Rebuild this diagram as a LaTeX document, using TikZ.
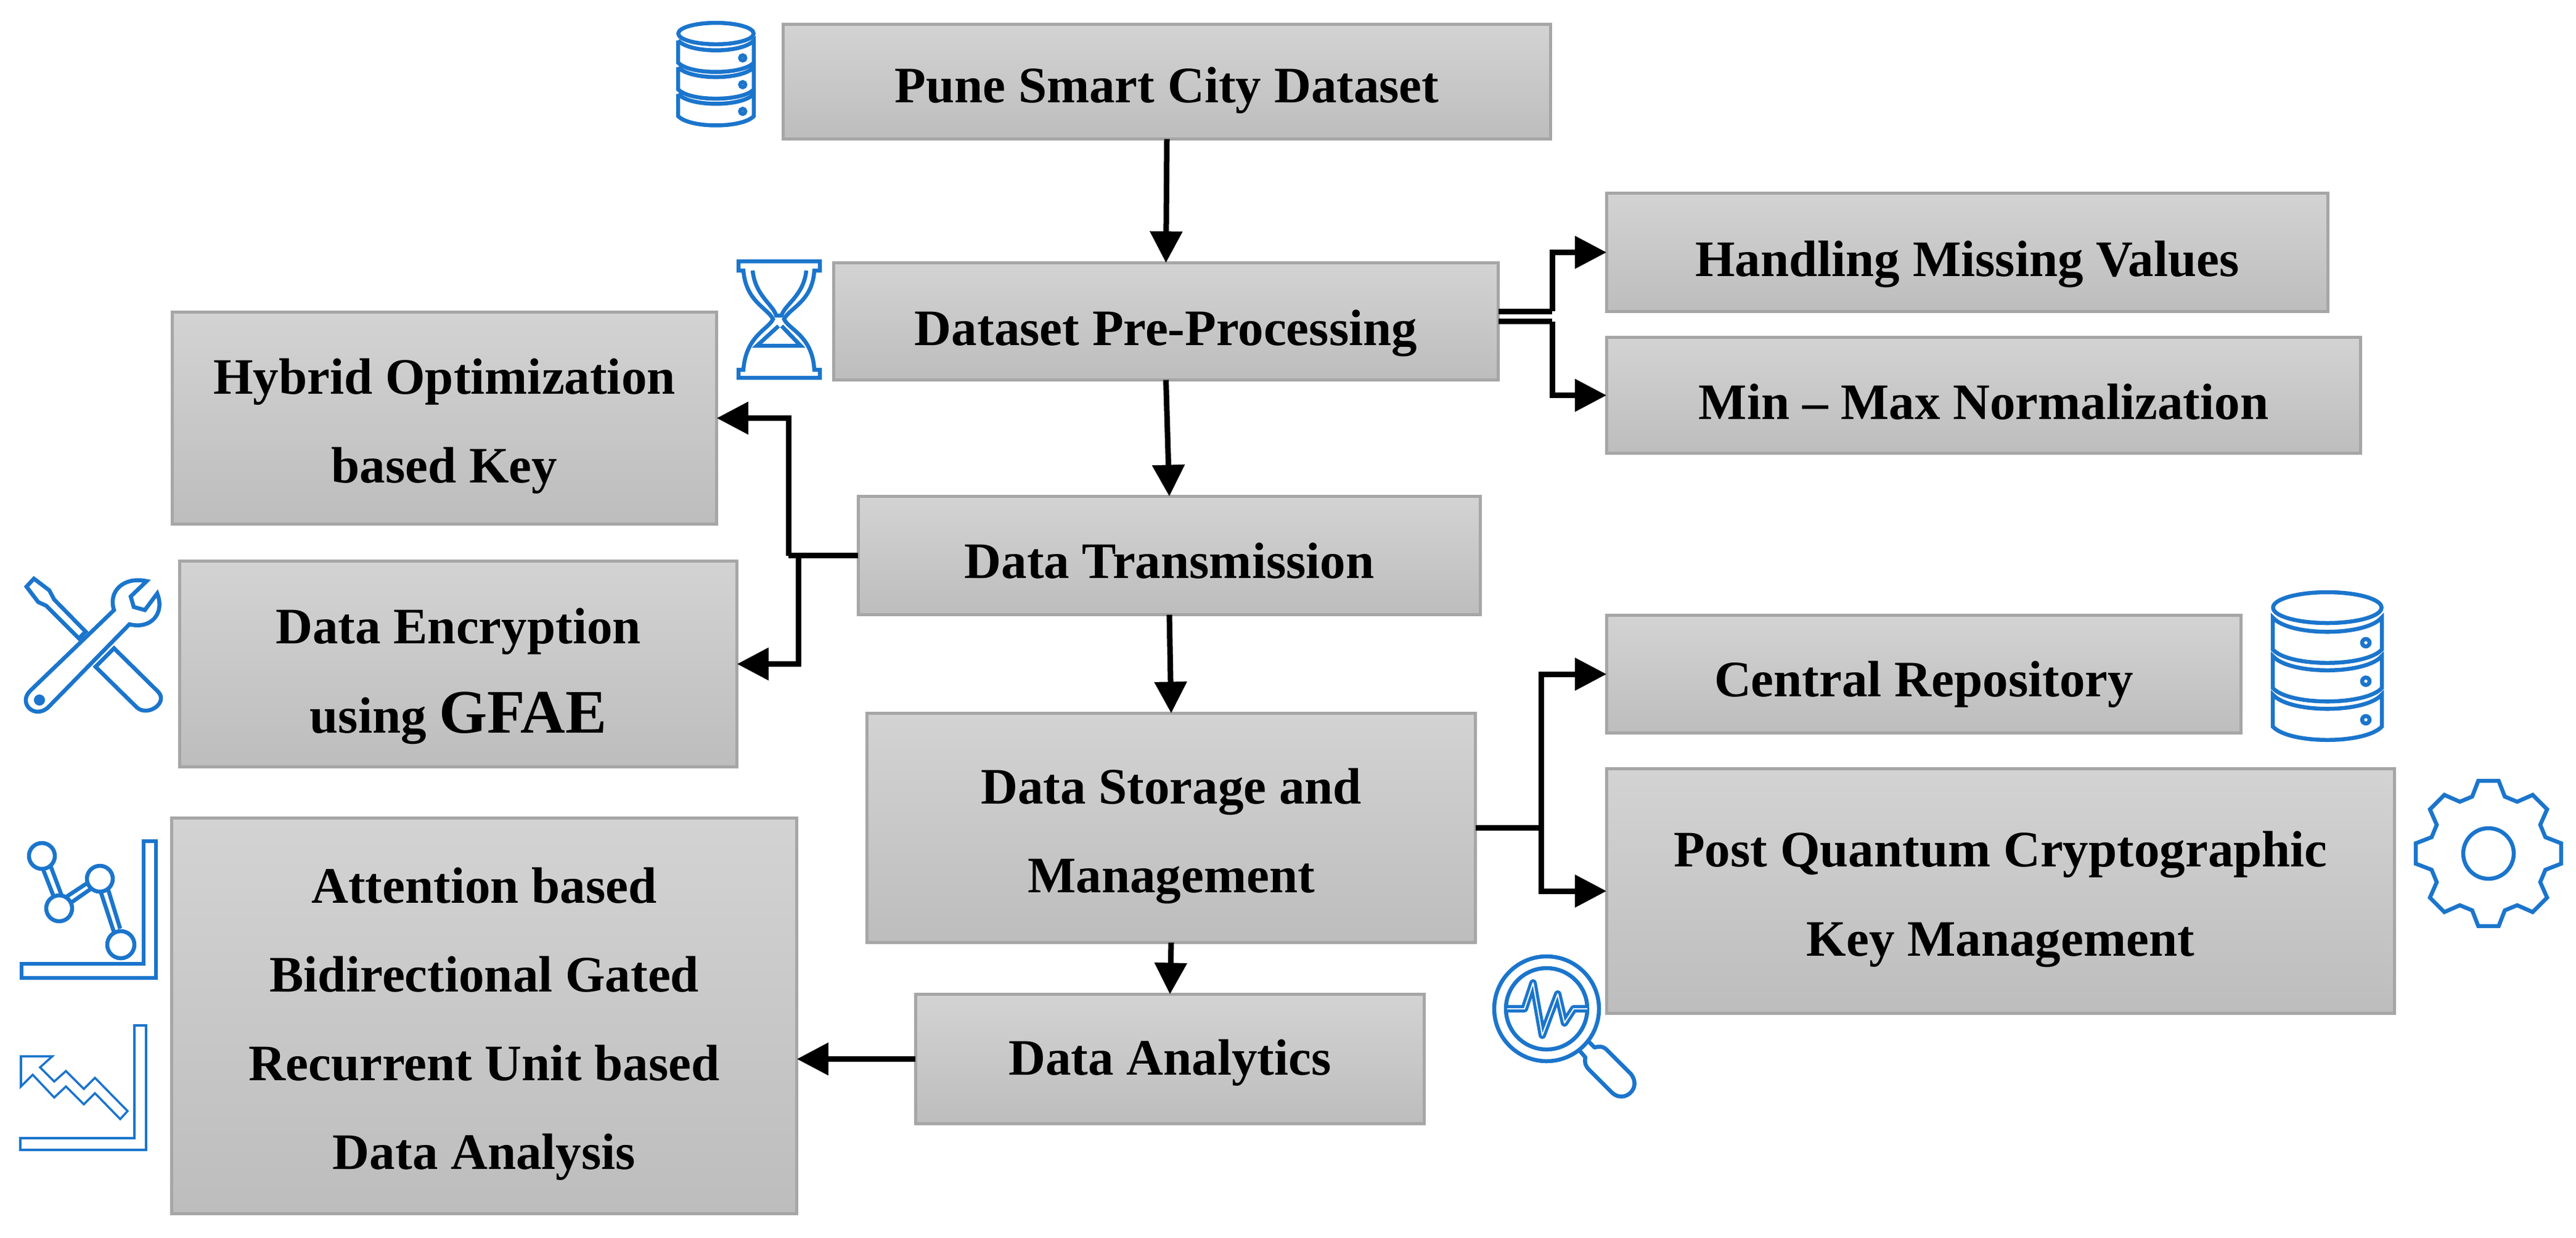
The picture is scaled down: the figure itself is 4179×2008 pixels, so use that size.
\documentclass[tikz,border=0pt]{standalone}
\usepackage{fontspec}
\setmainfont{Liberation Serif}
\usetikzlibrary{arrows.meta}

\definecolor{boxtop}{HTML}{D3D3D3}
\definecolor{boxbottom}{HTML}{BDBDBD}
\definecolor{boxline}{HTML}{A6A6A6}
\definecolor{iconblue}{HTML}{1B75CC}

\newcommand{\lifted}{\rule{0pt}{24pt}}

\tikzset{
	stage/.style = {draw = boxline, line width = .05cm, top color = boxtop, bottom color = boxbottom, outer sep = 0, inner sep = 0, align = center, text = black, font = \fontsize{23.6}{41}\selectfont\bfseries, execute at begin node = {\rule[-5.2pt]{0pt}{#1}}},
	stage/.default = 31.2pt,
	link/.style = {draw = black, line width = .09cm, -{Triangle[length = .51cm, width = .51cm]}},
	plainlink/.style = {draw = black, line width = .09cm},
	icon/.style = {draw = iconblue, line width = .065cm, line join = miter},
	database/.pic = {
		\draw [icon] (91.5,28) circle [x radius = 88, y radius = 25];
		\foreach \y in {0,62.5,125} {
			\draw [icon] (3,44+\y) -- (3,96+\y) .. controls (30,125+\y) and (153,125+\y) .. (180,96+\y) -- (180,44+\y) .. controls (153,75+\y) and (30,75+\y) .. cycle;
			\draw [icon] (154,85+\y) circle [radius = 6];
		}
	}
}

\begin{document}
\begin{tikzpicture}[x = .01cm, y = -.01cm]
	\useasboundingbox (0,0) rectangle (4179,2008);

	%stages
	\node [stage = 29.7pt, minimum width = 12.45cm, minimum height = 1.86cm] (pune dataset) at (1893,132.5) {Pune Smart City Dataset};
	\node [stage = 32.8pt, minimum width = 10.78cm, minimum height = 1.90cm] (dataset preprocessing) at (1891.5,521.5) {Dataset Pre-Processing};
	\node [stage, minimum width = 10.09cm, minimum height = 1.92cm] (data transmission) at (1897,901.5) {Data Transmission};
	\node [stage, minimum width = 9.87cm, minimum height = 3.72cm] (data storage) at (1900,1343.5) {\lifted Data Storage and\\Management};
	\node [stage = 25.2pt, minimum width = 8.25cm, minimum height = 2.10cm] (data analytics) at (1898,1718.5) {Data Analytics};

	%left side
	\node [stage, minimum width = 8.83cm, minimum height = 3.44cm] (hybrid key) at (721,678.5) {\lifted Hybrid Optimization\\based Key};
	\node [stage, minimum width = 9.04cm, minimum height = 3.34cm] (data encryption) at (743.5,1077.5) {\rule{0pt}{27.7pt}Data Encryption\\using {\fontsize{28.6}{41}\selectfont GFAE}};
	\node [stage, minimum width = 10.14cm, minimum height = 6.42cm] (data analysis) at (785.5,1648.5) {\lifted Attention based\\Bidirectional Gated\\Recurrent Unit based\\Data Analysis};

	%right side
	\node [stage = 32.8pt, minimum width = 11.70cm, minimum height = 1.92cm] (missing values) at (3191.5,409.5) {Handling Missing Values};
	\node [stage = 32.8pt, minimum width = 12.23cm, minimum height = 1.88cm] (minmax normalization) at (3218,641.5) {Min -- Max Normalization};
	\node [stage, minimum width = 10.29cm, minimum height = 1.91cm] (central repository) at (3121,1094) {Central Repository};
	\node [stage, minimum width = 12.78cm, minimum height = 3.97cm] (key management) at (3245.5,1446) {\lifted Post Quantum Cryptographic\\Key Management};

	%bends
	\coordinate (preprocessing upper) at (2431,505);
	\coordinate (upper bend) at (2518,505);
	\coordinate (lower bend) at (2518,521.5);
	\coordinate (key bend) at (1279,901.5);
	\coordinate (encryption bend) at (1295,901.5);
	\coordinate (storage bend) at (2500,1343.5);

	%connectors
	\draw [link] (pune dataset.south) -- (dataset preprocessing.north);
	\draw [link] (dataset preprocessing.south) -- (data transmission.north);
	\draw [link] (data transmission.south) -- (data storage.north);
	\draw [link] (data storage.south) -- (data analytics.north);
	\draw [plainlink] (preprocessing upper) -- (upper bend);
	\draw [link] (upper bend) |- (missing values.west);
	\draw [plainlink] (dataset preprocessing.east) -- (lower bend);
	\draw [link] (lower bend) |- (minmax normalization.west);
	\draw [plainlink] (data transmission.west) -- (key bend);
	\draw [link] (key bend) |- (hybrid key.east);
	\draw [link] (encryption bend) |- (data encryption.east);
	\draw [plainlink] (data storage.east) -- (storage bend);
	\draw [link] (storage bend) |- (central repository.west);
	\draw [link] (storage bend) |- (key management.west);
	\draw [link] (data analytics.west) -- (data analytics.west -| data analysis.east);

	%database icons
	\path (1098,35) pic [scale = .694] {database};
	\path (3684,958) pic {database};

	%hourglass
	\draw [icon] (1198,424) -- (1330,424) -- (1330,439) -- (1321,439) .. controls (1318,490) and (1280,500) .. (1272,518) .. controls (1280,535) and (1318,545) .. (1321,600) -- (1330,600) -- (1330,613) -- (1198,613) -- (1198,600) -- (1206,600) .. controls (1210,545) and (1246,535) .. (1254,518) .. controls (1246,500) and (1210,490) .. (1206,439) -- (1198,439) -- cycle;
	\draw [icon] (1221,439) .. controls (1225,480) and (1255,495) .. (1259,512) -- (1268,512) .. controls (1272,495) and (1304,480) .. (1308,439);
	\draw [icon] (1263,529) -- (1228,561) -- (1299,561) -- (1268,529);

	%tools
	\draw [icon] (55,939) -- (43,952) -- (62,977) -- (75,983) -- (128,1036) -- (139,1025) -- (88,973) -- (80,958) -- cycle;
	\draw [icon] (185,1052) -- (155,1082) -- (222,1148) .. controls (240,1164) and (274,1140) .. (256,1122) -- cycle;
	\draw [icon, fill = white] (50,1120) -- (185,990) .. controls (175,960) and (200,935) .. (238,943) -- (212,968) -- (217,985) -- (235,990) -- (255,963) .. controls (268,995) and (245,1022) .. (210,1013) -- (78,1148) .. controls (55,1168) and (28,1140) .. (50,1120) -- cycle;
	\fill [iconblue] (64,1136) circle [radius = 9];

	%line chart
	\draw [icon] (35,1564) -- (233,1564) -- (233,1365) -- (253,1365) -- (253,1587) -- (35,1587) -- cycle;
	\draw [icon] (68,1389) circle [radius = 21];
	\draw [icon] (162,1426) circle [radius = 21];
	\draw [icon] (96,1474) circle [radius = 21];
	\draw [icon] (196,1533) circle [radius = 22];
	\draw [icon] (70,1411) -- (88,1457) (82,1405) -- (100,1453);
	\draw [icon] (108,1455) -- (140,1434) (115,1465) -- (148,1442);
	\draw [icon] (163,1446) -- (185,1513) (175,1442) -- (195,1507);

	%falling chart
	\draw [icon, line width = .035cm] (33,1847) -- (218,1847) -- (218,1664) -- (237,1664) -- (237,1866) -- (33,1866) -- cycle;
	\draw [icon, line width = .035cm] (34,1714) -- (85,1714) -- (65,1732) -- (88,1755) -- (107,1738) -- (136,1767) -- (154,1749) -- (207,1803) -- (195,1816) -- (154,1774) -- (136,1792) -- (107,1763) -- (88,1781) -- (53,1744) -- (34,1763) -- cycle;

	%gear
	\draw [icon] (4037,1385) circle [radius = 41];
	\begin{scope}[shift = {(4037,1385)}]
		\draw [icon] (-16:96) \foreach \a in {0,45,...,315} {-- ({\a-16}:96) -- ({\a-8}:119) -- ({\a+8}:119) -- ({\a+16}:96)} -- cycle;
	\end{scope}

	%magnifier
	\draw [icon] (2509,1637) circle [radius = 85];
	\draw [icon] (2509,1637) circle [radius = 66];
	\draw [draw = iconblue, double = white, double distance = .02cm, line width = .05cm, line join = round] (2445,1637) -- (2473,1637) -- (2487,1595) -- (2502,1680) -- (2527,1613) -- (2538,1660) -- (2553,1637) -- (2575,1637);
	\draw [icon, line join = round] (2575,1688) -- (2587,1700) .. controls (2595,1697) and (2600,1698) .. (2606,1703) -- (2645,1742) .. controls (2665,1765) and (2635,1792) .. (2615,1773) -- (2578,1736) .. controls (2572,1730) and (2570,1724) .. (2572,1716) -- (2560,1702);
\end{tikzpicture}
\end{document}
